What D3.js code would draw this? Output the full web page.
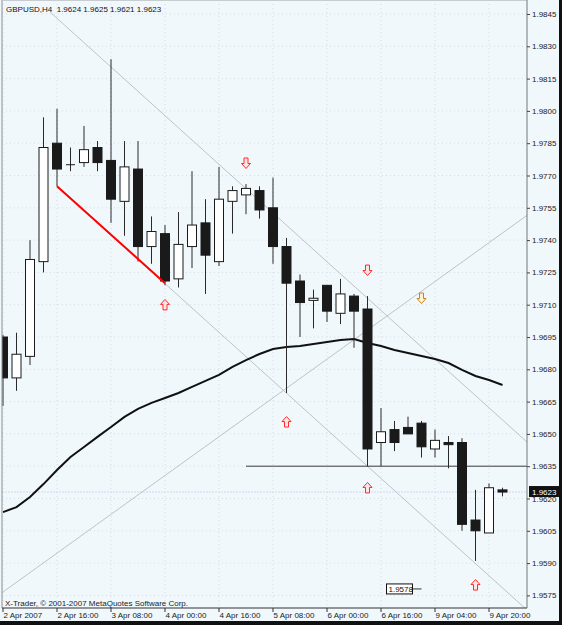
<!DOCTYPE html>
<html>
<head>
<meta charset="utf-8">
<script src="https://cdnjs.cloudflare.com/ajax/libs/d3/7.8.5/d3.min.js"></script>
<style>
body { margin: 0; background: #111; }
text { font-family: "Liberation Sans", Arial, sans-serif; font-size: 8px; }
</style>
</head>
<body>
<svg id="chart" width="562" height="625"></svg>
<script>
// GBPUSD H4 candles, 2 Apr 00:00 .. 9 Apr 2007
var title = "GBPUSD,H4  1.9624 1.9625 1.9621 1.9623";
var opens  = [1.9695,1.9676,1.9686,1.9730,1.9785,1.9775,1.9776,1.9783,1.9777,1.9758,1.9773,1.9737,1.9743,1.9722,1.9737,1.9748,1.9730,1.9758,1.9761,1.9763,1.9755,1.9737,1.9721,1.9712,1.9719,1.9706,1.9714,1.9708,1.9646,1.9652,1.9653,1.9655,1.9643,1.9646,1.9646,1.9610,1.9604,1.9624];
var highs  = [1.9696,1.9697,1.9740,1.9797,1.9801,1.9783,1.9793,1.9786,1.9824,1.9786,1.9786,1.9751,1.9747,1.9753,1.9772,1.9759,1.9774,1.9765,1.9766,1.9765,1.9769,1.9741,1.9724,1.9717,1.9719,1.9722,1.9715,1.9714,1.9662,1.9656,1.9658,1.9656,1.9652,1.9649,1.9648,1.9624,1.9627,1.9625];
var lows   = [1.9663,1.9670,1.9682,1.9725,1.9765,1.9772,1.9774,1.9772,1.9748,1.9742,1.9730,1.9729,1.9719,1.9718,1.9727,1.9715,1.9728,1.9743,1.9752,1.9750,1.9729,1.9669,1.9695,1.9699,1.9702,1.9701,1.9690,1.9635,1.9635,1.9642,1.9650,1.9639,1.9639,1.9634,1.9605,1.9591,1.9604,1.9621];
var closes = [1.9676,1.9687,1.9731,1.9783,1.9773,1.9775,1.9782,1.9776,1.9759,1.9774,1.9737,1.9744,1.9721,1.9738,1.9747,1.9733,1.9759,1.9763,1.9764,1.9754,1.9737,1.9720,1.9711,1.9713,1.9707,1.9715,1.9707,1.9643,1.9651,1.9646,1.9650,1.9644,1.9647,1.9645,1.9608,1.9605,1.9625,1.9623];
var maValues = [1.96137,1.96160,1.96207,1.96267,1.96332,1.96393,1.96439,1.96486,1.96532,1.96579,1.96616,1.96644,1.96667,1.96690,1.96718,1.96746,1.96774,1.96811,1.96843,1.96871,1.96894,1.96904,1.96908,1.96918,1.96927,1.96936,1.96941,1.96922,1.96908,1.96890,1.96876,1.96862,1.96848,1.96829,1.96797,1.96769,1.96750,1.96727];

var priceTicks = [1.9845,1.9830,1.9815,1.9800,1.9785,1.9770,1.9755,1.9740,1.9725,1.9710,1.9695,1.9680,1.9665,1.9650,1.9635,1.9620,1.9605,1.9590,1.9575];
var timeTickIndex = [0,4,8,12,16,20,24,28,32,36];
var timeTickLabels = ["2 Apr 2007","2 Apr 16:00","3 Apr 08:00","4 Apr 00:00","4 Apr 16:00","5 Apr 08:00","6 Apr 00:00","6 Apr 16:00","9 Apr 04:00","9 Apr 20:00"];

// signal arrows
var arrowIdx   = [18,12,21,27,31,27,35];
var arrowPrice = [1.97758,1.97099,1.96555,1.97261,1.97131,1.96249,1.95798];
var arrowDir   = ["down","up","up","down","down","up","up"];
var arrowGroup = ["a","a","a","a","b","a","a"];

// drawn objects
var channelLow = [[4,1.9765],[27,1.9635]];
var channelWidth = 0.0078;
var channelUpperStart = 3.5;
var redSegment = [[4,1.9765],[12,1.9720]];
var fanLine = [[0,1.95766],[37,1.97433]];
var levelPrice = 1.9635, levelStart = 18;
var bidPrice = 1.9623;
var noteIdx = 31, notePrice = 1.9578;

var svg = d3.select("#chart");
var W = 562, H = 625;
var L = 2, R = 527, T = 0, B = 608;

var x = d3.scaleLinear().domain([0, 37]).range([3, 502.5]);
var y = d3.scaleLinear().domain([1.9575, 1.9845]).range([595.4, 14]);

svg.append("rect").attr("width", W).attr("height", H).attr("fill", "#111");
svg.append("rect").attr("width", 559).attr("height", 621).attr("fill", "#f1f8fc");

svg.append("clipPath").attr("id", "plot").append("rect")
  .attr("x", L).attr("y", T).attr("width", R - L).attr("height", B - T);

var grid = svg.append("g").attr("stroke", "#d3dde4").attr("stroke-dasharray", "1,3");
grid.selectAll(".hg").data(priceTicks).join("line")
  .attr("x1", L).attr("x2", R).attr("y1", d => y(d)).attr("y2", d => y(d));
grid.selectAll(".vg").data(timeTickIndex).join("line")
  .attr("y1", T).attr("y2", B).attr("x1", d => x(d)).attr("x2", d => x(d));

var plot = svg.append("g").attr("clip-path", "url(#plot)");

// bid line
plot.append("line").attr("x1", L).attr("x2", R)
  .attr("y1", y(bidPrice)).attr("y2", y(bidPrice))
  .attr("stroke", "#dcd4ea").attr("stroke-dasharray", "2,1");

// helper to extend a line through two points to chart edges
function lineAt(p, i) {
  var s = (p[1][1] - p[0][1]) / (p[1][0] - p[0][0]);
  return p[0][1] + s * (i - p[0][0]);
}
var xEnd = x.invert(R + 5), xStart = x.invert(L - 5);

plot.append("line")
  .attr("x1", x(channelLow[0][0])).attr("y1", y(channelLow[0][1]))
  .attr("x2", x(xEnd)).attr("y2", y(lineAt(channelLow, xEnd)))
  .attr("stroke", "#bcc3c8");
plot.append("line")
  .attr("x1", x(channelUpperStart)).attr("y1", y(lineAt(channelLow, channelUpperStart) + channelWidth))
  .attr("x2", x(xEnd)).attr("y2", y(lineAt(channelLow, xEnd) + channelWidth))
  .attr("stroke", "#bcc3c8");
plot.append("line")
  .attr("x1", x(xStart)).attr("y1", y(lineAt(fanLine, xStart)))
  .attr("x2", x(xEnd)).attr("y2", y(lineAt(fanLine, xEnd)))
  .attr("stroke", "#bcc3c8");

plot.append("line")
  .attr("x1", x(levelStart)).attr("x2", R)
  .attr("y1", y(levelPrice)).attr("y2", y(levelPrice))
  .attr("stroke", "#3a3a3a");

// moving average
plot.append("path").datum(maValues)
  .attr("fill", "none").attr("stroke", "#111").attr("stroke-width", 2)
  .attr("d", d3.line().x((d, i) => x(i)).y(d => y(d)));

// candles
var bars = opens.map((o, i) => ({ i: i, o: o, h: highs[i], l: lows[i], c: closes[i] }));
var cg = plot.append("g");
cg.selectAll(".wick").data(bars).join("line")
  .attr("x1", d => x(d.i)).attr("x2", d => x(d.i))
  .attr("y1", d => y(d.h)).attr("y2", d => y(d.l))
  .attr("stroke", "#2a2a2a");
cg.selectAll(".body").data(bars.filter(d => d.o != d.c)).join("rect")
  .attr("x", d => x(d.i) - 4.5).attr("width", 9)
  .attr("y", d => y(Math.max(d.o, d.c)))
  .attr("height", d => Math.max(1, Math.abs(y(d.o) - y(d.c))))
  .attr("fill", d => d.c > d.o ? "#fff" : "#1a1a1a")
  .attr("stroke", "#1a1a1a");
cg.selectAll(".doji").data(bars.filter(d => d.o == d.c)).join("line")
  .attr("x1", d => x(d.i) - 4.5).attr("x2", d => x(d.i) + 4.5)
  .attr("y1", d => y(d.o)).attr("y2", d => y(d.o))
  .attr("stroke", "#1a1a1a");

// red trend segment
plot.append("line")
  .attr("x1", x(redSegment[0][0])).attr("y1", y(redSegment[0][1]))
  .attr("x2", x(redSegment[1][0])).attr("y2", y(redSegment[1][1]))
  .attr("stroke", "#ff0000").attr("stroke-width", 2);

// arrows
var arrowColor = { a: "#ff2a2a", b: "#c8841c" };
var arrowFill = { a: "#ffe6e6", b: "#fff2d8" };
var upPath = "M0,-5.5L4.5,-0.5L2,-0.5L2,5L-2,5L-2,-0.5L-4.5,-0.5Z";
plot.selectAll(".arrow").data(arrowIdx).join("path")
  .attr("d", upPath)
  .attr("transform", (d, k) => "translate(" + x(d) + "," + y(arrowPrice[k]) + ")" + (arrowDir[k] == "down" ? " scale(1,-1)" : ""))
  .attr("fill", (d, k) => arrowFill[arrowGroup[k]])
  .attr("stroke", (d, k) => arrowColor[arrowGroup[k]]);

// price note box
var nx = x(noteIdx), ny = y(notePrice);
plot.append("line").attr("x1", nx - 9).attr("x2", nx).attr("y1", ny).attr("y2", ny).attr("stroke", "#333");
plot.append("rect").attr("x", nx - 35).attr("y", ny - 5).attr("width", 26).attr("height", 10)
  .attr("fill", "#fff").attr("stroke", "#111");
plot.append("text").attr("x", nx - 33).attr("y", ny + 3).attr("fill", "#111").text(notePrice.toFixed(4));

// frame
svg.append("line").attr("x1", L).attr("x2", L).attr("y1", 0).attr("y2", B).attr("stroke", "#8a8f93");
svg.append("line").attr("x1", L).attr("x2", R).attr("y1", 0.5).attr("y2", 0.5).attr("stroke", "#c6ccd0");
svg.append("line").attr("x1", R).attr("x2", R).attr("y1", 0).attr("y2", B).attr("stroke", "#777");
svg.append("line").attr("x1", L).attr("x2", R).attr("y1", B).attr("y2", B).attr("stroke", "#333");

// price axis
var yAxis = d3.axisRight(y).tickValues(priceTicks).tickSize(3).tickPadding(2).tickFormat(d3.format(".4f"));
var ya = svg.append("g").attr("transform", "translate(" + R + ",0)").call(yAxis);
ya.select(".domain").remove();
ya.selectAll("line").attr("stroke", "#444");
ya.selectAll("text").attr("fill", "#222").style("font-size", "8px").style("font-family", "Liberation Sans, Arial, sans-serif");

// time axis
var xa = svg.append("g");
xa.selectAll("line").data(timeTickIndex).join("line")
  .attr("x1", d => x(d)).attr("x2", d => x(d)).attr("y1", B).attr("y2", B + 4)
  .attr("stroke", "#333");
xa.selectAll("text").data(timeTickIndex).join("text")
  .attr("x", d => x(d) + 0.5).attr("y", 618).attr("fill", "#222")
  .text((d, k) => timeTickLabels[k]);

// current price tag
svg.append("rect").attr("x", 529).attr("y", y(bidPrice) - 6).attr("width", 30).attr("height", 11).attr("fill", "#111");
svg.append("text").attr("x", 532).attr("y", y(bidPrice) + 3).attr("fill", "#fff").text(bidPrice.toFixed(4));

// texts
svg.append("text").attr("x", 6).attr("y", 12).attr("fill", "#111").attr("xml:space", "preserve").text(title);
svg.append("text").attr("x", 5).attr("y", 606).attr("fill", "#222").text("X-Trader, \u00a9 2001-2007 MetaQuotes Software Corp.");
</script>
</body>
</html>
